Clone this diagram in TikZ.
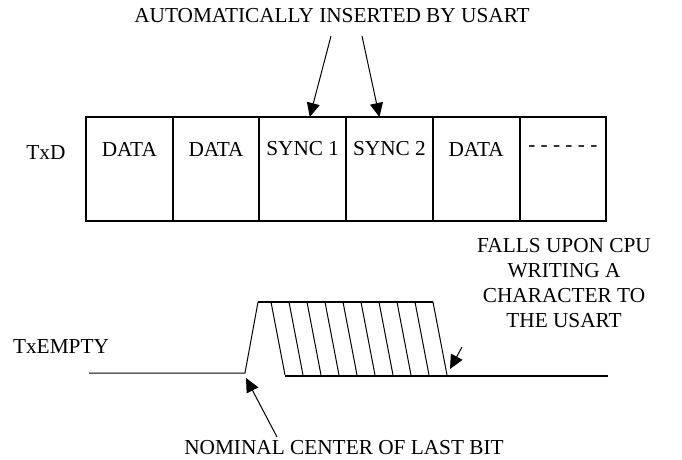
\documentclass[tikz,border=0pt]{standalone}
\usepackage{fontspec}
\setmainfont{Liberation Serif}
\usetikzlibrary{positioning}
\usetikzlibrary{arrows.meta}
\tikzstyle{timing} = [x = 1pt, y = -1pt, every node/.style={font=\fontsize{21.3}{25}\selectfont}]
\tikzstyle{cellBox} = [draw, line width = 2pt, minimum width = 86.7pt, minimum height = 104pt, inner sep = 0pt, outer sep = 0pt]
\tikzstyle{cellText} = [inner sep = 0pt]
\tikzstyle{signalLabel} = [inner sep = 0pt]
\tikzstyle{pointer} = [line width = 1pt, -{Triangle[length = 14pt, width = 13pt]}]
\tikzstyle{thinLine} = [line width = 1pt]
\tikzstyle{thickLine} = [line width = 2pt]
\newcommand{\cellW}{86.7}
\newcommand{\txdCell}[3]{\node (#2) [cellBox] at (129.35 + #1 * \cellW, 169) {}; \node (#2Text) [cellText] at ([yshift = 20pt]#2.center) {#3};}
\newcommand{\hatchLines}[3]{
  \foreach \i in {0,...,#1} {
    \draw [thinLine] (#2 + \i * #3, 302) -- + (14, 73);
  }
}

\begin{document}
\begin{tikzpicture}[timing]
  \useasboundingbox (0,0) rectangle (682,460);
  % TxD frame
  \node (txd) [signalLabel] at (46,153) {TxD};
  \txdCell{0}{dataA}{DATA}
  \txdCell{1}{dataB}{DATA}
  \txdCell{2}{syncA}{SYNC 1}
  \txdCell{3}{syncB}{SYNC 2}
  \txdCell{4}{dataC}{DATA}
  \txdCell{5}{dots}{- - - - - -}
  \node (autoLabel) [signalLabel] at (332,16) {AUTOMATICALLY INSERTED BY USART};
  \coordinate (syncAFrom) at (331,36);
  \coordinate (syncBFrom) at (362,36);
  \draw [pointer] (syncAFrom) -- ([xshift = 7pt]syncA.north);
  \draw [pointer] (syncBFrom) -- ([xshift = -10pt]syncB.north);

  % TxEMPTY
  \node (txEmpty) [signalLabel] at (61,347) {TxEMPTY};
  \coordinate (riseFoot) at (245,373);
  \coordinate (riseTop) at (258,302);
  \coordinate (fallFoot) at (448,376);
  \draw [thinLine] (89,373) -- (riseFoot) -- (riseTop);
  \draw [thickLine] (riseTop) -- (433,302);
  \draw [thickLine] (285,376) -- (608,376);
  \hatchLines{9}{271}{18}
  \node (fallsLabel) [signalLabel, align = center] at (564,283) {FALLS UPON CPU\\WRITING A\\CHARACTER TO\\THE USART};
  \coordinate (fallFrom) at (462,347);
  \draw [pointer] (fallFrom) -- ([shift = {(2,-7)}]fallFoot);
  \node (nominalLabel) [signalLabel] at (344,448) {NOMINAL CENTER OF LAST BIT};
  \coordinate (nominalFrom) at (277,437);
  \draw [pointer] (nominalFrom) -- ([shift = {(1,5)}]riseFoot);
\end{tikzpicture}
\end{document}
